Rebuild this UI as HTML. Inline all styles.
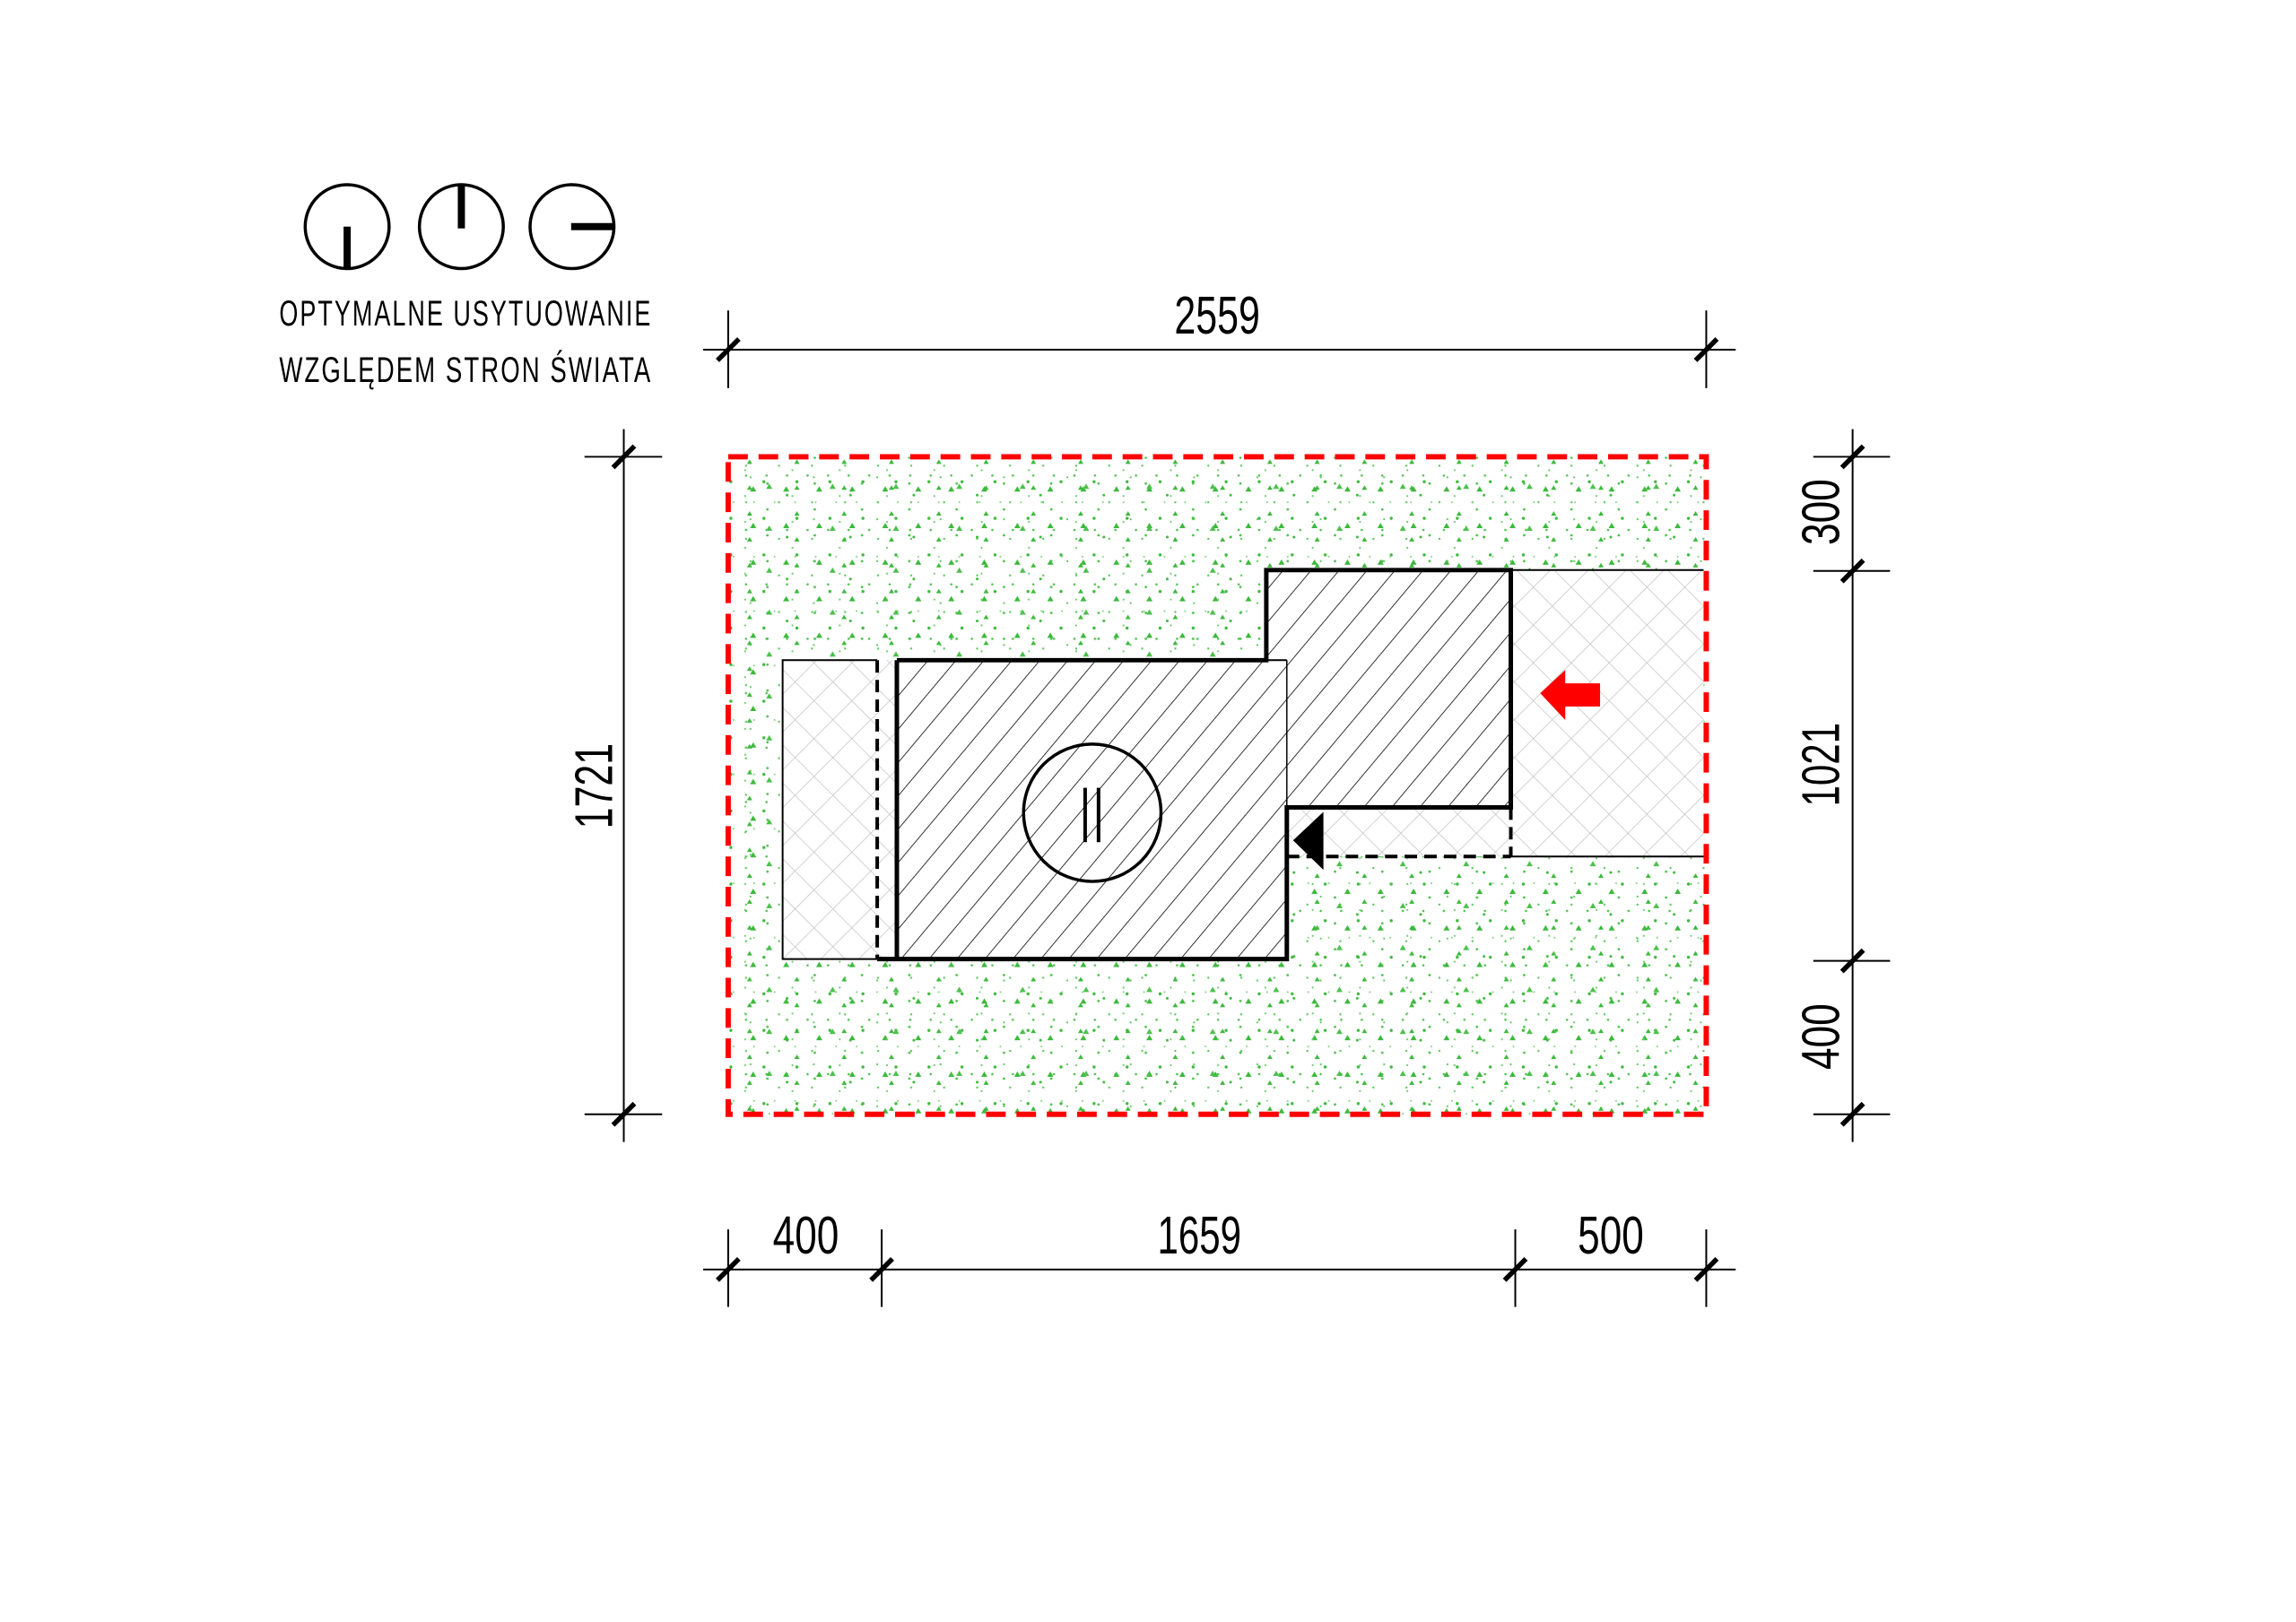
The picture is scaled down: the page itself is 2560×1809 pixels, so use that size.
<!DOCTYPE html>
<html><head><meta charset="utf-8"><style>html,body{margin:0;padding:0;background:#fff}svg{display:block}</style></head>
<body>
<svg width="2560" height="1809" viewBox="0 0 2560 1809" xmlns="http://www.w3.org/2000/svg" font-family="Liberation Sans, sans-serif">
<defs>
<pattern id="g1" width="37" height="41" patternUnits="userSpaceOnUse">
<circle cx="5" cy="7" r="1.7" fill="#3cb83c"/><circle cx="22" cy="30" r="1.2" fill="#5cc85c"/><path d="M30 12l3.5 6h-7z" fill="#3cb83c"/>
</pattern>
<pattern id="g2" width="53" height="29" patternUnits="userSpaceOnUse">
<circle cx="12" cy="20" r="1.4" fill="#4cc04c"/><circle cx="40" cy="5" r="1.1" fill="#6ccc6c"/><path d="M45 22l3 5h-6z" fill="#3cb83c"/>
</pattern>
<pattern id="g3" width="23" height="61" patternUnits="userSpaceOnUse">
<circle cx="8" cy="45" r="1.3" fill="#4cc04c"/><circle cx="17" cy="14" r="1" fill="#7ad27a"/>
</pattern>
<pattern id="g4" width="71" height="47" patternUnits="userSpaceOnUse">
<circle cx="30" cy="38" r="1.5" fill="#3cb83c"/><circle cx="60" cy="18" r="1.1" fill="#5cc85c"/><path d="M10 25l3.5 6h-7z" fill="#4cc04c"/>
</pattern>
<pattern id="cross" width="30" height="30" patternUnits="userSpaceOnUse" patternTransform="rotate(45)">
<rect width="30" height="30" fill="#fff"/>
<line x1="0" y1="0" x2="0" y2="30" stroke="#c4c4c4" stroke-width="1.5"/>
<line x1="0" y1="0" x2="30" y2="0" stroke="#c4c4c4" stroke-width="1.5"/>
</pattern>
<pattern id="diag" width="24" height="24" patternUnits="userSpaceOnUse" patternTransform="rotate(40)">
<rect width="24" height="24" fill="#fff"/>
<line x1="0" y1="0" x2="0" y2="24" stroke="#000" stroke-width="1.6"/>
</pattern>
</defs>
<g transform="scale(0.995)">
<!-- legend -->
<g fill="none" stroke="#000" stroke-width="3.5">
<circle cx="389" cy="254" r="47"/><circle cx="517" cy="254" r="47"/><circle cx="641" cy="254" r="47"/>
</g>
<rect x="385" y="254" width="8" height="48" fill="#000"/>
<rect x="513" y="207" width="8" height="49" fill="#000"/>
<rect x="640" y="250" width="48" height="8" fill="#000"/>
<text x="313" y="365" font-size="40" letter-spacing="3" textLength="418" lengthAdjust="spacingAndGlyphs">OPTYMALNE USYTUOWANIE</text>
<text x="313" y="428" font-size="40" letter-spacing="3" textLength="418" lengthAdjust="spacingAndGlyphs">WZGLĘDEM STRON ŚWIATA</text>

<!-- site -->
<rect x="816" y="512" width="1096" height="737" fill="#fff"/>
<rect x="816" y="512" width="1096" height="737" fill="url(#g1)"/>
<rect x="816" y="512" width="1096" height="737" fill="url(#g2)"/>
<rect x="816" y="512" width="1096" height="737" fill="url(#g3)"/>
<rect x="816" y="512" width="1096" height="737" fill="url(#g4)"/>

<rect x="877" y="740" width="128" height="335" fill="url(#cross)"/>
<rect x="1693" y="639" width="216" height="321" fill="url(#cross)"/>
<rect x="1442" y="905" width="251" height="55" fill="url(#cross)"/>
<polygon points="1005,740 1419,740 1419,639 1693,639 1693,905 1442,905 1442,1075 1005,1075" fill="url(#diag)"/>

<g stroke="#000" fill="none">
<polyline points="983,740 877,740 877,1075 983,1075" stroke-width="2"/>
<line x1="1419" y1="740" x2="1442" y2="740" stroke-width="2"/>
<line x1="1442" y1="740" x2="1442" y2="905" stroke-width="1.5"/>
<line x1="1693" y1="639" x2="1909" y2="639" stroke-width="2"/>
<line x1="1693" y1="960" x2="1909" y2="960" stroke-width="2"/>
<polyline points="1005,740 1419,740 1419,639 1693,639 1693,905 1442,905 1442,1075 983,1075" stroke-width="5"/>
<line x1="1005" y1="740" x2="1005" y2="1075" stroke-width="5"/>
<line x1="983" y1="740" x2="983" y2="1075" stroke-width="4" stroke-dasharray="14,8"/>
<line x1="1442" y1="960" x2="1693" y2="960" stroke-width="4" stroke-dasharray="14,8"/>
<line x1="1693" y1="905" x2="1693" y2="960" stroke-width="4" stroke-dasharray="14,8"/>
<circle cx="1224" cy="911" r="77" stroke-width="3.5"/>
<line x1="1216" y1="883" x2="1216" y2="944" stroke-width="4"/>
<line x1="1231" y1="883" x2="1231" y2="944" stroke-width="4"/>
</g>
<polygon points="1449,942 1483,910 1483,975" fill="#000"/>
<polygon points="1726,777 1754,751 1754,766 1793,766 1793,792 1754,792 1754,807" fill="#f00"/>

<rect x="816" y="512" width="1096" height="737" fill="none" stroke="#f00" stroke-width="6" stroke-dasharray="22,12"/>

<!-- dimensions -->
<g stroke="#000" stroke-width="2">
<line x1="788" y1="392" x2="1945" y2="392"/>
<line x1="816" y1="348" x2="816" y2="435"/><line x1="1912" y1="348" x2="1912" y2="435"/>
<line x1="699" y1="481" x2="699" y2="1280"/>
<line x1="655" y1="512" x2="742" y2="512"/><line x1="655" y1="1249" x2="742" y2="1249"/>
<line x1="2076" y1="481" x2="2076" y2="1280"/>
<line x1="2032" y1="512" x2="2118" y2="512"/><line x1="2032" y1="640" x2="2118" y2="640"/>
<line x1="2032" y1="1077" x2="2118" y2="1077"/><line x1="2032" y1="1249" x2="2118" y2="1249"/>
<line x1="788" y1="1423" x2="1945" y2="1423"/>
<line x1="816" y1="1378" x2="816" y2="1465"/><line x1="988" y1="1378" x2="988" y2="1465"/>
<line x1="1698" y1="1378" x2="1698" y2="1465"/><line x1="1912" y1="1378" x2="1912" y2="1465"/>
</g>
<g stroke="#000" stroke-width="5.5">
<line x1="804" y1="404" x2="828" y2="380"/><line x1="1900" y1="404" x2="1924" y2="380"/>
<line x1="687" y1="524" x2="711" y2="500"/><line x1="687" y1="1261" x2="711" y2="1237"/>
<line x1="2064" y1="524" x2="2088" y2="500"/><line x1="2064" y1="652" x2="2088" y2="628"/>
<line x1="2064" y1="1089" x2="2088" y2="1065"/><line x1="2064" y1="1261" x2="2088" y2="1237"/>
<line x1="804" y1="1435" x2="828" y2="1411"/><line x1="976" y1="1435" x2="1000" y2="1411"/>
<line x1="1686" y1="1435" x2="1710" y2="1411"/><line x1="1900" y1="1435" x2="1924" y2="1411"/>
</g>
<g font-size="60" text-anchor="middle">
<text x="1364" y="374" textLength="96" lengthAdjust="spacingAndGlyphs">2559</text>
<text x="903" y="1405" textLength="74" lengthAdjust="spacingAndGlyphs">400</text>
<text x="1344" y="1405" textLength="94" lengthAdjust="spacingAndGlyphs">1659</text>
<text x="1805" y="1405" textLength="74" lengthAdjust="spacingAndGlyphs">500</text>
<text transform="translate(686,881) rotate(-90)" textLength="96" lengthAdjust="spacingAndGlyphs">1721</text>
<text transform="translate(2061,574) rotate(-90)" textLength="74" lengthAdjust="spacingAndGlyphs">300</text>
<text transform="translate(2061,857) rotate(-90)" textLength="94" lengthAdjust="spacingAndGlyphs">1021</text>
<text transform="translate(2061,1162) rotate(-90)" textLength="74" lengthAdjust="spacingAndGlyphs">400</text>
</g>
</g>
</svg>
</body></html>
